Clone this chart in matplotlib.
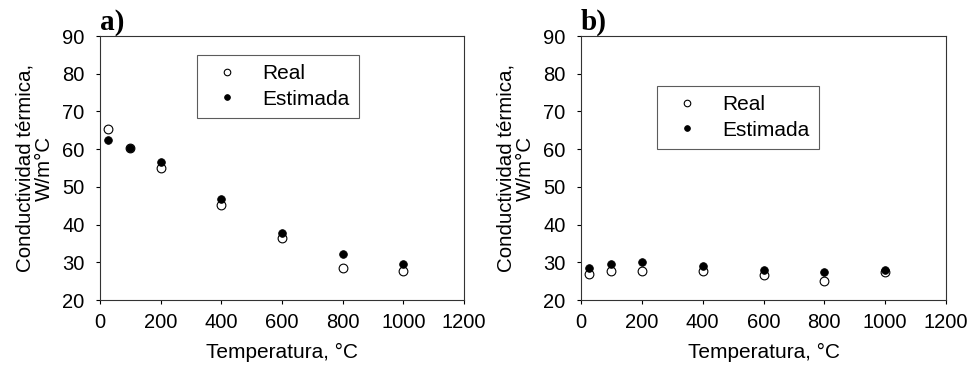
import matplotlib.pyplot as plt

plt.rcParams['font.family'] = ['Liberation Sans', 'DejaVu Sans']

# Temperaturas de ensayo (°C)
temps = [25, 100, 200, 400, 600, 800, 1000]

# Panel a)
real_a = [65.3, 60.4, 55.0, 45.3, 36.5, 28.6, 27.7]
est_a = [62.5, 60.2, 56.5, 46.9, 37.8, 32.1, 29.6]

# Panel b)
real_b = [26.8, 27.6, 27.6, 27.6, 26.5, 25.1, 27.5]
est_b = [28.4, 29.5, 30.1, 29.1, 27.9, 27.5, 27.9]

x_ticks = [0, 200, 400, 600, 800, 1000, 1200]
y_ticks = [20, 30, 40, 50, 60, 70, 80, 90]

W, H = 971, 374
fig = plt.figure(figsize=(W / 100, H / 100), dpi=100)


def make_panel(rect, real, est, tag, legend_box):
    ax = fig.add_axes(rect)
    ax.plot(temps, real, 'o', ms=6.3, mfc='white', mec='black', mew=0.8,
            label='Real', zorder=3)
    ax.plot(temps, est, 'o', ms=5.5, mfc='black', mec='black', mew=0.6,
            label='Estimada', zorder=4)
    ax.set_xlim(0, 1200)
    ax.set_ylim(20, 90)
    ax.set_xticks(x_ticks)
    ax.set_yticks(y_ticks)
    ax.tick_params(direction='out', length=3, width=0.8, labelsize=14.5)
    ax.tick_params(axis='y', pad=8)
    ax.tick_params(axis='x', pad=6)
    for s in ax.spines.values():
        s.set_linewidth(0.8)
        s.set_color('#333333')
    ax.set_xlabel('Temperatura, °C', fontsize=15, labelpad=8)
    ax.set_ylabel('Conductividad térmica,\nW/m°C', fontsize=14.8,
                  linespacing=1.05, labelpad=6)
    ax.text(0.0, 1.0, tag, transform=ax.transAxes, fontsize=21,
            fontweight='bold', family='Liberation Serif', ha='left',
            va='bottom')
    leg = ax.legend(loc='upper left', bbox_to_anchor=legend_box,
                    fontsize=15, frameon=True, fancybox=False,
                    edgecolor='#333333', handletextpad=0.7, borderpad=0.45,
                    labelspacing=0.3, handlelength=2.0, markerscale=0.75,
                    borderaxespad=0)
    leg.get_frame().set_linewidth(0.8)
    return ax


# axes rectangles in pixel coords converted to figure fractions
ax_a = make_panel([100 / W, 1 - 300 / H, 364 / W, 264 / H],
                  real_a, est_a, 'a)', ((197 - 100) / 364, (300 - 55) / 264))
ax_b = make_panel([581 / W, 1 - 300 / H, 365 / W, 264 / H],
                  real_b, est_b, 'b)', ((657 - 581) / 365, (300 - 86) / 264))

fig.savefig('out.png', dpi=100)
